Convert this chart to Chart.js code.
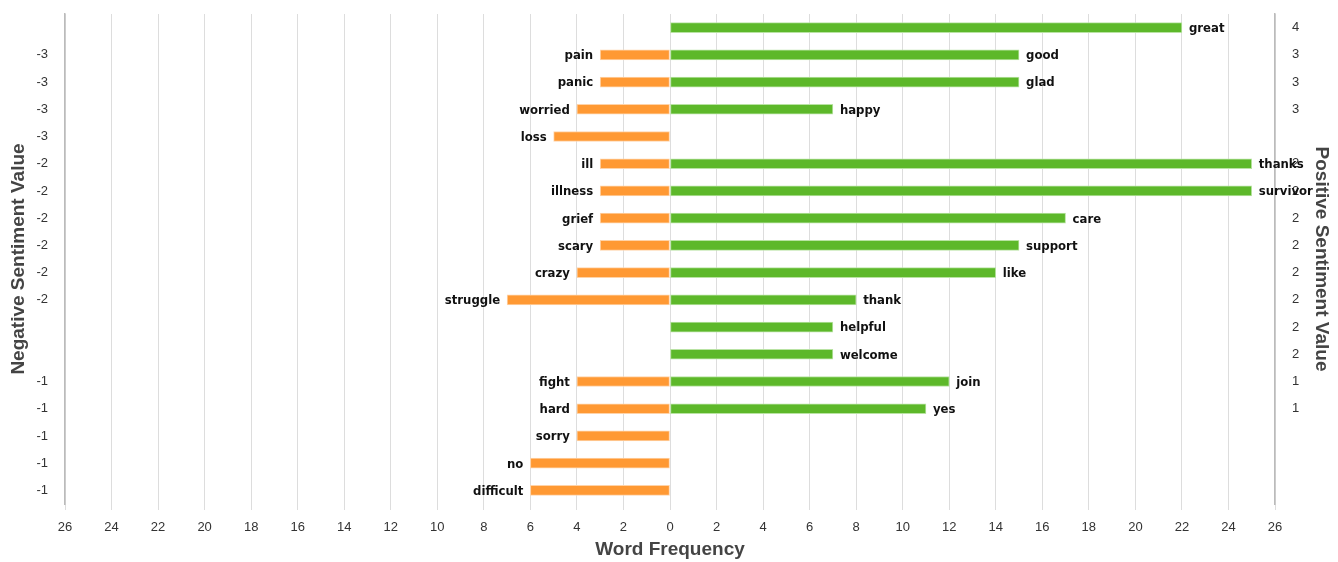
<!DOCTYPE html>
<html>
<head>
<meta charset="utf-8">
<script src="https://cdn.jsdelivr.net/npm/chart.js@4"></script>
<style>
  html, body { margin: 0; padding: 0; background: #fff; }
  #wrap { width: 1338px; height: 562px; }
</style>
</head>
<body>
<div id="wrap"><canvas id="chart"></canvas></div>
<script>
// rows top to bottom
const negWords  = ['', 'pain', 'panic', 'worried', 'loss', 'ill', 'illness', 'grief', 'scary', 'crazy', 'struggle', '', '', 'fight', 'hard', 'sorry', 'no', 'difficult'];
const negFreq   = [null, 3, 3, 4, 5, 3, 3, 3, 3, 4, 7, null, null, 4, 4, 4, 6, 6];
const negValues = ['', '-3', '-3', '-3', '-3', '-2', '-2', '-2', '-2', '-2', '-2', '', '', '-1', '-1', '-1', '-1', '-1'];

const posWords  = ['great', 'good', 'glad', 'happy', '', 'thanks', 'survivor', 'care', 'support', 'like', 'thank', 'helpful', 'welcome', 'join', 'yes', '', '', ''];
const posFreq   = [22, 15, 15, 7, null, 25, 25, 17, 15, 14, 8, 7, 7, 12, 11, null, null, null];
const posValues = ['4', '3', '3', '3', '', '2', '2', '2', '2', '2', '2', '2', '2', '1', '1', '', '', ''];

const rows = negWords.map((w, i) => 'r' + i);

// word labels at bar ends
const wordLabels = {
  id: 'wordLabels',
  afterDatasetsDraw(chart) {
    const ctx = chart.ctx;
    ctx.save();
    ctx.font = 'bold 13px "Liberation Sans Narrow", "DejaVu Sans Condensed", sans-serif';
    ctx.fillStyle = '#111';
    ctx.textBaseline = 'middle';
    chart.getDatasetMeta(0).data.forEach((bar, i) => {
      if (negFreq[i] == null) return;
      ctx.textAlign = 'right';
      ctx.fillText(negWords[i], bar.x - 7, bar.y + 1);
    });
    chart.getDatasetMeta(1).data.forEach((bar, i) => {
      if (posFreq[i] == null) return;
      ctx.textAlign = 'left';
      ctx.fillText(posWords[i], bar.x + 7, bar.y + 1);
    });
    ctx.restore();
  }
};

const tickFont  = { family: 'Liberation Sans, Arial, sans-serif', size: 13 };
const titleFont = { family: 'Liberation Sans, Arial, sans-serif', size: 19, weight: 'bold' };

new Chart(document.getElementById('chart'), {
  type: 'bar',
  data: {
    labels: rows,
    datasets: [
      {
        label: 'Negative',
        data: negFreq.map(v => v == null ? null : -v),
        backgroundColor: '#FF9933',
        borderColor: '#FFD3A8',
        borderWidth: 1,
        borderSkipped: false,
        barThickness: 10
      },
      {
        label: 'Positive',
        data: posFreq,
        backgroundColor: '#5DB82A',
        borderColor: '#B9E3A3',
        borderWidth: 1,
        borderSkipped: false,
        barThickness: 10
      }
    ]
  },
  options: {
    indexAxis: 'y',
    responsive: true,
    maintainAspectRatio: false,
    animation: false,
    layout: { padding: { top: 14, bottom: 0 } },
    plugins: {
      legend: { display: false },
      tooltip: { enabled: false }
    },
    scales: {
      x: {
        stacked: true,
        min: -26,
        max: 26,
        ticks: {
          stepSize: 2,
          callback: v => Math.abs(v),
          color: '#333',
          font: tickFont,
          maxRotation: 0,
          padding: 10
        },
        grid: { color: '#dddddd', tickLength: 6 },
        border: { display: false },
        title: {
          display: true,
          text: 'Word Frequency',
          color: '#444',
          font: titleFont,
          padding: { top: 0, bottom: 1 }
        },
        afterFit: s => { s.height = 58; }
      },
      y: {
        stacked: true,
        position: 'left',
        ticks: {
          callback: (v, i) => negValues[i],
          color: '#333',
          font: tickFont,
          padding: 4
        },
        grid: { display: false, tickLength: 13 },
        border: { display: true, color: '#bbbbbb', width: 1.5 },
        title: {
          display: true,
          text: 'Negative Sentiment Value',
          color: '#444',
          font: titleFont,
          padding: { top: 7, bottom: 0 }
        },
        afterFit: s => { s.width = 65; }
      },
      y2: {
        type: 'category',
        labels: posValues,
        position: 'right',
        offset: true,
        ticks: {
          color: '#333',
          font: tickFont,
          padding: 4
        },
        grid: { display: false, tickLength: 13 },
        border: { display: true, color: '#bbbbbb', width: 1.5 },
        title: {
          display: true,
          text: 'Positive Sentiment Value',
          color: '#444',
          font: titleFont,
          padding: { top: 5, bottom: 0 }
        },
        afterFit: s => { s.width = 63; }
      }
    }
  },
  plugins: [wordLabels]
});
</script>
</body>
</html>
